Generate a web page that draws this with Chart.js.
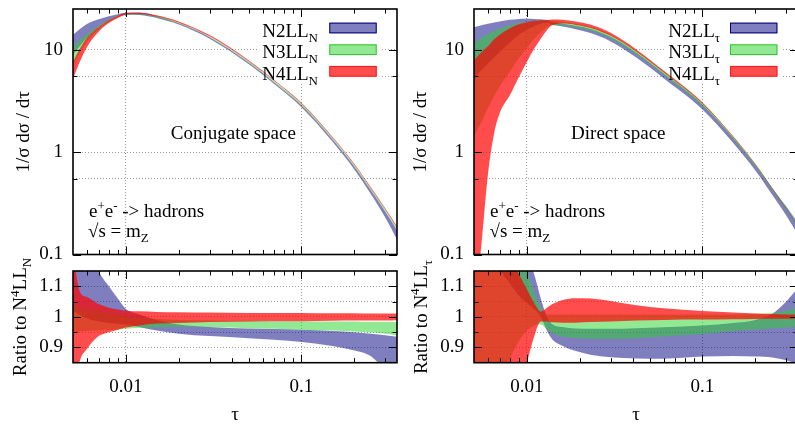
<!DOCTYPE html>
<html><head><meta charset="utf-8">
<script src="https://cdn.jsdelivr.net/npm/chart.js@4"></script>
<style>
html,body{margin:0;padding:0;background:#fff;overflow:hidden;width:795px;height:424px;}
canvas{position:absolute;}
</style></head><body>
<canvas id="c1" width="400" height="272" style="left:0px;top:0px"></canvas>
<canvas id="c2" width="400" height="272" style="left:401px;top:0px"></canvas>
<canvas id="c3" width="400" height="190" style="left:0px;top:240px"></canvas>
<canvas id="c4" width="400" height="190" style="left:401px;top:240px"></canvas>
<script>
// ---------------- data ----------------
const TAU_N = [0.005, 0.0055, 0.006, 0.007, 0.008, 0.009, 0.01, 0.012, 0.015, 0.02, 0.03, 0.05, 0.07, 0.1, 0.15, 0.2, 0.25, 0.3, 0.35];
const N4LLN_LO = [5.2, 7.8, 10.6, 15.0, 18.2, 20.4, 22.0, 22.4, 21.1, 18.4, 13.55, 7.7, 4.94, 2.97, 1.385, 0.752, 0.435, 0.277, 0.182];
const N4LLN_HI = [7.6, 10.4, 13.0, 16.6, 19.4, 21.4, 22.9, 23.0, 21.7, 18.9, 13.9, 7.9, 5.06, 3.04, 1.415, 0.768, 0.445, 0.283, 0.188];
const N3LLN_LO = [7.0, 9.5, 12.0, 15.8, 18.7, 20.8, 22.0, 22.1, 20.7, 18.0, 13.25, 7.5, 4.8, 2.87, 1.34, 0.725, 0.418, 0.265, 0.174];
const N3LLN_HI = [10.5, 12.5, 14.2, 17.2, 19.6, 21.3, 22.5, 22.6, 21.2, 18.4, 13.5, 7.7, 4.93, 2.96, 1.38, 0.75, 0.433, 0.276, 0.182];
const N2LLN_LO = [9.0, 11.0, 13.0, 16.5, 19.2, 21.0, 22.0, 21.9, 20.4, 17.6, 12.8, 7.25, 4.63, 2.75, 1.27, 0.676, 0.383, 0.23, 0.14];
const N2LLN_HI = [14.0, 16.0, 17.8, 19.8, 21.2, 22.2, 23.0, 23.1, 21.2, 18.1, 13.25, 7.5, 4.8, 2.87, 1.335, 0.722, 0.416, 0.263, 0.173];

const R4N_LO = [0.75, 0.86, 0.895, 0.937, 0.95, 0.958, 0.965, 0.972, 0.978, 0.98, 0.983, 0.985, 0.986, 0.986, 0.987, 0.988, 0.988, 0.988, 0.989];
const R4N_HI = [1.2, 1.08, 1.065, 1.042, 1.03, 1.024, 1.02, 1.018, 1.016, 1.015, 1.014, 1.013, 1.013, 1.013, 1.012, 1.012, 1.011, 1.011, 1.011];
const R3N_LO = [0.95, 0.952, 0.954, 0.955, 0.957, 0.959, 0.961, 0.964, 0.966, 0.968, 0.967, 0.963, 0.961, 0.958, 0.955, 0.952, 0.949, 0.945, 0.94];
const R3N_HI = [1.037, 1.03, 1.025, 1.018, 1.012, 1.008, 1.004, 0.997, 0.993, 0.99, 0.988, 0.987, 0.986, 0.986, 0.985, 0.985, 0.984, 0.984, 0.983];
const R2N_LO = [1.02, 1.005, 0.995, 0.985, 0.98, 0.977, 0.975, 0.966, 0.955, 0.945, 0.937, 0.93, 0.925, 0.918, 0.905, 0.89, 0.87, 0.82, 0.75];
const R2N_HI = [1.6, 1.4, 1.25, 1.15, 1.1, 1.06, 1.026, 1.008, 0.99, 0.975, 0.967, 0.962, 0.96, 0.958, 0.954, 0.95, 0.945, 0.94, 0.935];

const TAU_T = [0.005, 0.0055, 0.006, 0.0065, 0.007, 0.008, 0.009, 0.01, 0.011, 0.012, 0.013, 0.014, 0.016, 0.019, 0.023, 0.03, 0.042, 0.06, 0.1, 0.15, 0.2, 0.25, 0.3, 0.35];
const N4T_LO = [0.03, 0.12, 0.6, 1.5, 2.4, 3.6, 5.4, 7.6, 10.2, 12.8, 15.5, 17.4, 18.0, 17.46, 16.32, 13.69, 9.58, 6.04, 2.97, 1.39, 0.755, 0.437, 0.278, 0.184];
const N4T_HI = [7.9, 9.4, 10.8, 12.6, 14.0, 16.2, 17.7, 18.6, 19.2, 19.4, 19.5, 19.76, 19.62, 18.89, 17.60, 14.62, 10.07, 6.27, 3.06, 1.42, 0.768, 0.444, 0.282, 0.187];
const N3T_LO = [1.45, 1.95, 2.7, 3.5, 4.4, 6.1, 8.2, 10.4, 12.8, 14.8, 16.6, 17.3, 17.39, 16.57, 15.40, 12.90, 9.02, 5.71, 2.83, 1.336, 0.728, 0.423, 0.27, 0.179];
const N3T_HI = [11.4, 13.0, 14.2, 15.2, 16.0, 17.3, 18.2, 18.8, 19.1, 19.3, 19.4, 19.15, 18.75, 17.94, 16.73, 14.01, 9.78, 6.15, 3.02, 1.41, 0.768, 0.445, 0.286, 0.191];
const N2T_LO = [5.2, 6.3, 7.3, 8.4, 9.5, 11.8, 14.0, 15.8, 17.0, 17.9, 18.3, 17.58, 16.83, 15.81, 14.54, 12.07, 8.38, 5.26, 2.61, 1.22, 0.661, 0.381, 0.24, 0.156];
const N2T_HI = [16.6, 17.3, 17.9, 18.5, 18.9, 19.6, 20.0, 20.1, 20.0, 19.8, 19.5, 18.53, 17.99, 17.12, 15.95, 13.36, 9.34, 5.89, 2.92, 1.372, 0.752, 0.444, 0.294, 0.203];

const R4T_LO = [0.2, 0.3, 0.4, 0.5, 0.6, 0.7, 0.78, 0.85, 0.935, 0.985, 0.985, 0.982, 0.981, 0.981, 0.983, 0.985, 0.988, 0.99, 0.991, 0.992, 0.993, 0.994, 0.994, 0.995];
const R4T_HI = [1.6, 1.5, 1.4, 1.32, 1.26, 1.19, 1.14, 1.09, 1.045, 1.017, 1.03, 1.042, 1.055, 1.061, 1.06, 1.052, 1.038, 1.028, 1.019, 1.014, 1.011, 1.009, 1.008, 1.008];
const R3T_LO = [0.4, 0.5, 0.6, 0.68, 0.75, 0.86, 0.92, 0.955, 0.972, 0.975, 0.96, 0.946, 0.935, 0.931, 0.928, 0.928, 0.93, 0.936, 0.944, 0.954, 0.958, 0.962, 0.965, 0.968];
const R3T_HI = [2.0, 1.8, 1.65, 1.5, 1.4, 1.28, 1.2, 1.15, 1.08, 1.03, 1.008, 1.008, 1.008, 1.008, 1.008, 1.008, 1.008, 1.008, 1.008, 1.008, 1.01, 1.012, 1.02, 1.032];
const R2T_LO = [1.5, 1.4, 1.3, 1.22, 1.16, 1.11, 1.07, 1.045, 1.025, 1.0, 0.955, 0.925, 0.905, 0.888, 0.876, 0.868, 0.864, 0.863, 0.87, 0.872, 0.87, 0.867, 0.858, 0.845];
const R2T_HI = [3.0, 2.6, 2.3, 2.0, 1.8, 1.5, 1.32, 1.2, 1.14, 1.06, 1.0, 0.975, 0.967, 0.962, 0.961, 0.961, 0.963, 0.966, 0.972, 0.98, 0.99, 1.01, 1.05, 1.095];

// ticks
const X_MAJOR = [0.01, 0.1];
const X_MINOR = [0.006, 0.007, 0.008, 0.009, 0.02, 0.03, 0.04, 0.05, 0.06, 0.07, 0.08, 0.09, 0.2, 0.3];
const X_LABELS = {0.01: '0.01', 0.1: '0.1'};
const TOP_Y_TICKS = [0.1, 0.55, 1, 5.5, 10];
const TOP_Y_MAJOR = [0.1, 1, 10];
const TOP_Y_MINOR = [0.55, 5.5];
const TOP_Y_LABELS = {0.1: '0.1', 1: '1', 10: '10'};
const RAT_Y_TICKS = [0.9, 0.95, 1, 1.05, 1.1];
const RAT_Y_MAJOR = [0.9, 1, 1.1];
const RAT_Y_MINOR = [0.95, 1.05];
const RAT_Y_LABELS = {0.9: '0.9', 1: '1', 1.1: '1.1'};

// ---------------- styling ----------------
const FAM = '"Liberation Serif", "Times New Roman", serif';
const MAIN = 19, SMALL = 13;
const FILL = {n2: 'rgba(0,0,128,0.5)', n3: 'rgba(40,210,40,0.5)', n4: 'rgba(255,0,0,0.7)'};
const EDGE = {n2: '#00007a', n3: '#2ec82e', n4: '#ff1a1a'};
const GRIDC = '#9a9a9a';

function pts(xs, ys) { return xs.map((x, i) => ({x: x, y: ys[i]})); }
function bandSets(tau, list) {
  const out = [];
  list.forEach(([lo, hi, col]) => {
    out.push({data: pts(tau, lo), borderWidth: 0, borderColor: 'rgba(0,0,0,0)', pointRadius: 0, fill: false});
    out.push({data: pts(tau, hi), borderWidth: 0, borderColor: 'rgba(0,0,0,0)', pointRadius: 0, fill: '-1', backgroundColor: col});
  });
  return out;
}

function measure(ctx, parts) {
  let w = 0;
  for (const p of parts) { ctx.font = (p.s ? SMALL : MAIN) + 'px ' + FAM; w += ctx.measureText(p.t).width; }
  return w;
}
function drawRich(ctx, parts, x, y, align) {
  const w = measure(ctx, parts);
  let cx = align === 'right' ? x - w : (align === 'center' ? x - w / 2 : x);
  ctx.textAlign = 'left'; ctx.textBaseline = 'alphabetic'; ctx.fillStyle = '#000';
  for (const p of parts) {
    ctx.font = (p.s ? SMALL : MAIN) + 'px ' + FAM;
    const dy = p.s === 'sup' ? -7.5 : (p.s === 'sub' ? 5 : 0);
    ctx.fillText(p.t, cx, y + dy);
    cx += ctx.measureText(p.t).width;
  }
  return w;
}

const decor = {
  id: 'decor',
  beforeDatasetsDraw(chart, args, o) {
    // opaque key background (covers grid lines only, drawn under the bands)
    if (!o.legend) return;
    const ctx = chart.ctx, L = o.legend;
    ctx.save();
    ctx.fillStyle = '#fff';
    L.rows.forEach(r => {
      const w = measure(ctx, r.parts);
      ctx.fillRect(L.tx - w - 3, r.cy - 10.8, (L.sx + L.sw + 4) - (L.tx - w - 3), 21.6);
    });
    ctx.restore();
  },
  afterDatasetsDraw(chart, args, o) {
    const ctx = chart.ctx, a = chart.chartArea, xs = chart.scales.x, ys = chart.scales.y;
    ctx.save();
    ctx.strokeStyle = '#000';
    ctx.lineWidth = 1;
    const seg = (x1, y1, x2, y2) => { ctx.beginPath(); ctx.moveTo(x1, y1); ctx.lineTo(x2, y2); ctx.stroke(); };
    const xt = (vals, len) => vals.forEach(v => { const p = Math.round(xs.getPixelForValue(v)) + 0.5; seg(p, a.bottom, p, a.bottom - len); seg(p, a.top, p, a.top + len); });
    const yt = (vals, len) => vals.forEach(v => { const p = Math.round(ys.getPixelForValue(v)) + 0.5; seg(a.left, p, a.left + len, p); seg(a.right, p, a.right - len, p); });
    xt(X_MAJOR, 8); xt(X_MINOR, 4.5);
    yt(o.yMajor, 8); yt(o.yMinor, 4.5);
    ctx.lineWidth = 1.6;
    ctx.strokeRect(a.left, a.top, a.right - a.left, a.bottom - a.top);
    ctx.restore();
  },
  afterDraw(chart, args, o) {
    const ctx = chart.ctx;
    ctx.save();
    if (o.ytitle) {
      ctx.save();
      ctx.translate(o.ytitle.x, o.ytitle.y);
      ctx.rotate(-Math.PI / 2);
      drawRich(ctx, o.ytitle.parts, 0, 0, 'center');
      ctx.restore();
    }
    (o.texts || []).forEach(t => drawRich(ctx, t.parts, t.x, t.y, t.align || 'left'));
    if (o.legend) {
      const L = o.legend;
      L.rows.forEach(r => {
        drawRich(ctx, r.parts, L.tx, r.base, 'right');
        ctx.fillStyle = '#fff';
        ctx.fillRect(L.sx, r.cy - L.sh / 2, L.sw, L.sh);
        ctx.fillStyle = r.fill;
        ctx.fillRect(L.sx, r.cy - L.sh / 2, L.sw, L.sh);
        ctx.strokeStyle = r.edge; ctx.lineWidth = 1;
        ctx.strokeRect(L.sx + 0.5, r.cy - L.sh / 2 + 0.5, L.sw - 1, L.sh - 1);
      });
    }
    ctx.restore();
  }
};

function gridColor(list) {
  return c => (c.tick && list.indexOf(c.tick.value) >= 0) ? GRIDC : 'rgba(0,0,0,0)';
}
function xScale(showLabels, h) {
  return {
    type: 'logarithmic', min: 0.005, max: 0.35, bounds: 'data',
    afterBuildTicks: s => { s.ticks = X_MAJOR.map(v => ({value: v})); },
    afterFit: s => { s.height = h; s.paddingLeft = 0; s.paddingRight = 0; },
    grid: {color: gridColor(X_MAJOR), lineWidth: 1, drawTicks: false},
    border: {display: false, dash: [1, 2]},
    ticks: {display: showLabels, autoSkip: false, maxRotation: 0, minRotation: 0, padding: 13.4, color: '#000',
            font: {family: FAM, size: MAIN}, callback: v => (X_LABELS[v] !== undefined ? X_LABELS[v] : '')},
    title: showLabels ? {display: true, text: 'τ', color: '#000', font: {family: FAM, size: MAIN}, padding: {top: 0, bottom: 3.1}} : {display: false}
  };
}
function yScale(type, min, max, ticks, labels, gridList) {
  return {
    type: type, min: min, max: max, bounds: 'data',
    afterBuildTicks: s => { s.ticks = ticks.map(v => ({value: v})); },
    afterFit: s => { s.width = 73; s.paddingTop = 0; s.paddingBottom = 0; },
    grid: {color: gridColor(gridList), lineWidth: 1, drawTicks: false},
    border: {display: false, dash: [1, 2]},
    ticks: {autoSkip: false, padding: 10, color: '#000', font: {family: FAM, size: MAIN},
            callback: v => (labels[v] !== undefined ? labels[v] : '')}
  };
}

function makeChart(id, datasets, scales, padding, decorOpts) {
  return new Chart(document.getElementById(id), {
    type: 'line',
    data: {datasets: datasets},
    options: {
      responsive: false, animation: false, events: [], devicePixelRatio: 1,
      layout: {padding: padding},
      elements: {line: {cubicInterpolationMode: 'monotone', capBezierPoints: false}, point: {radius: 0}},
      scales: scales,
      plugins: {legend: {display: false}, tooltip: {enabled: false}, decor: decorOpts}
    },
    plugins: [decor]
  });
}

const sub = (t) => ({t: t, s: 'sub'});
const sup = (t) => ({t: t, s: 'sup'});
const txt = (t) => ({t: t});
const DIST_TITLE = [txt('1/σ dσ / dτ')];
const EE = [txt('e'), sup('+'), txt('e'), sup('-'), txt(' -> hadrons')];
const SQ = [txt('√s = m'), sub('Z')];

function legendRows(s) {
  return [
    {parts: [txt('N2LL'), sub(s)], cy: 28, base: 36.5, fill: FILL.n2, edge: EDGE.n2},
    {parts: [txt('N3LL'), sub(s)], cy: 49.7, base: 58.2, fill: FILL.n3, edge: EDGE.n3},
    {parts: [txt('N4LL'), sub(s)], cy: 71.3, base: 79.8, fill: FILL.n4, edge: EDGE.n4}
  ];
}

// top-left: conjugate space
makeChart('c1',
  bandSets(TAU_N, [[N4LLN_LO, N4LLN_HI, FILL.n4], [N3LLN_LO, N3LLN_HI, FILL.n3], [N2LLN_LO, N2LLN_HI, FILL.n2]]),
  {x: xScale(false, 17.5), y: yScale('logarithmic', 0.1, 25, TOP_Y_TICKS, TOP_Y_LABELS, [0.55, 1, 5.5, 10])},
  {top: 9, right: 3, left: 0, bottom: 0},
  {yMajor: TOP_Y_MAJOR, yMinor: TOP_Y_MINOR,
   ytitle: {parts: DIST_TITLE, x: 29, y: 131.75},
   texts: [{parts: [txt('Conjugate space')], x: 233.3, y: 139, align: 'center'},
           {parts: EE, x: 89, y: 217.3}, {parts: SQ, x: 88, y: 237}],
   legend: {tx: 318, sx: 329.3, sw: 47.4, sh: 10.7, rows: legendRows('N')}});

// top-right: direct space
makeChart('c2',
  bandSets(TAU_T, [[N4T_LO, N4T_HI, FILL.n4], [N3T_LO, N3T_HI, FILL.n3], [N2T_LO, N2T_HI, FILL.n2]]),
  {x: xScale(false, 17.5), y: yScale('logarithmic', 0.1, 25, TOP_Y_TICKS, TOP_Y_LABELS, [0.55, 1, 5.5, 10])},
  {top: 9, right: 3, left: 0, bottom: 0},
  {yMajor: TOP_Y_MAJOR, yMinor: TOP_Y_MINOR,
   ytitle: {parts: DIST_TITLE, x: 24.7, y: 131.75},
   texts: [{parts: [txt('Direct space')], x: 217.3, y: 139, align: 'center'},
           {parts: EE, x: 89, y: 217.3}, {parts: SQ, x: 88.5, y: 237}],
   legend: {tx: 319, sx: 329, sw: 47.4, sh: 10.7, rows: legendRows('τ')}});

// bottom-left: ratio conjugate
makeChart('c3',
  bandSets(TAU_N, [[R4N_LO, R4N_HI, FILL.n4], [R3N_LO, R3N_HI, FILL.n3], [R2N_LO, R2N_HI, FILL.n2]]),
  {x: xScale(true, 67.3), y: yScale('linear', 0.85, 1.15, RAT_Y_TICKS, RAT_Y_LABELS, [0.9, 0.95, 1, 1.05, 1.1])},
  {top: 31, right: 3, left: 0, bottom: 0},
  {yMajor: RAT_Y_MAJOR, yMinor: RAT_Y_MINOR,
   ytitle: {parts: [txt('Ratio to N'), sup('4'), txt('LL'), sub('N')], x: 26, y: 77}});

// bottom-right: ratio direct
makeChart('c4',
  bandSets(TAU_T, [[R4T_LO, R4T_HI, FILL.n4], [R3T_LO, R3T_HI, FILL.n3], [R2T_LO, R2T_HI, FILL.n2]]),
  {x: xScale(true, 67.3), y: yScale('linear', 0.85, 1.15, RAT_Y_TICKS, RAT_Y_LABELS, [0.9, 0.95, 1, 1.05, 1.1])},
  {top: 31, right: 3, left: 0, bottom: 0},
  {yMajor: RAT_Y_MAJOR, yMinor: RAT_Y_MINOR,
   ytitle: {parts: [txt('Ratio to N'), sup('4'), txt('LL'), sub('τ')], x: 25.7, y: 77}});
</script>
</body></html>
